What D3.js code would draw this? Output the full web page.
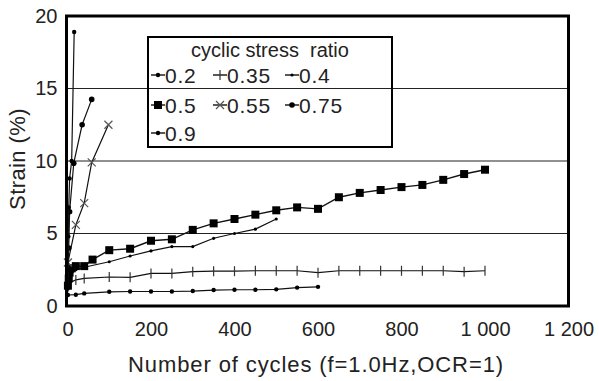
<!DOCTYPE html>
<html>
<head>
<meta charset="utf-8">
<script src="https://cdn.jsdelivr.net/npm/d3@7"></script>
<style>
  body { margin: 0; background: #fff; }
  svg text { font-family: "Liberation Sans", Arial, sans-serif; fill: #222; }
</style>
</head>
<body>
<div id="chart"></div>
<script>
// cycles / strain (%) per cyclic stress ratio
const cycles02 = [1, 20, 40, 100, 150, 200, 250, 300, 350, 400, 450, 500, 550, 600];
const strain02 = [0.76, 0.78, 0.87, 0.98, 1.0, 1.0, 1.0, 1.03, 1.1, 1.12, 1.12, 1.15, 1.27, 1.32];

const cycles035 = [1, 5, 20, 40, 100, 150, 200, 250, 300, 350, 400, 450, 500, 550, 600, 650, 700, 750, 800, 850, 900, 950, 1000];
const strain035 = [1.3, 1.6, 1.8, 1.9, 2.0, 1.98, 2.25, 2.25, 2.37, 2.4, 2.4, 2.43, 2.43, 2.43, 2.3, 2.43, 2.43, 2.43, 2.43, 2.43, 2.43, 2.37, 2.43];

const cycles04 = [1, 20, 40, 100, 150, 200, 250, 300, 350, 400, 450, 500];
const strain04 = [2.0, 2.5, 2.67, 3.05, 3.45, 3.8, 4.1, 4.1, 4.67, 5.0, 5.3, 6.0];

const cycles05 = [1, 3, 5, 10, 20, 40, 60, 100, 150, 200, 250, 300, 350, 400, 450, 500, 550, 600, 650, 700, 750, 800, 850, 900, 950, 1000];
const strain05 = [1.4, 1.9, 2.3, 2.6, 2.75, 2.75, 3.2, 3.85, 3.95, 4.5, 4.6, 5.25, 5.7, 6.0, 6.3, 6.6, 6.8, 6.7, 7.5, 7.8, 8.0, 8.2, 8.35, 8.7, 9.1, 9.4];

const cycles055 = [1, 20, 40, 58, 98];
const strain055 = [3.0, 5.6, 7.1, 9.9, 12.5];

const cycles075 = [1, 3, 5, 15, 35, 58];
const strain075 = [1.8, 4.0, 6.5, 9.85, 12.5, 14.25];

const cycles09 = [0.5, 1, 2, 3, 5, 10, 16];
const strain09 = [1.2, 2.5, 4.8, 6.8, 8.8, 10.0, 18.9];

const seriesNames = ["0.2", "0.35", "0.4", "0.5", "0.55", "0.75", "0.9"];
const xTicks = [0, 200, 400, 600, 800, 1000, 1200];
const yTicks = [0, 5, 10, 15, 20];
const gridValues = [5, 10, 15];

const series = [
  { name: "0.2", x: cycles02, y: strain02, marker: "dot" },
  { name: "0.35", x: cycles035, y: strain035, marker: "vtick" },
  { name: "0.4", x: cycles04, y: strain04, marker: "smalldot" },
  { name: "0.5", x: cycles05, y: strain05, marker: "square" },
  { name: "0.55", x: cycles055, y: strain055, marker: "cross" },
  { name: "0.75", x: cycles075, y: strain075, marker: "bigdot" },
  { name: "0.9", x: cycles09, y: strain09, marker: "dot" }
].map((s) => ({ ...s, points: s.x.map((c, i) => [c, s.y[i]]) }));

const width = 599;
const height = 381;

const x = d3.scaleLinear().domain([0, 1200]).range([67.5, 568.5]);
const y = d3.scaleLinear().domain([0, 20]).range([306, 16]);

const svg = d3.select("#chart")
  .append("svg")
  .attr("width", width)
  .attr("height", height);

const locale = d3.formatLocale({ decimal: ".", thousands: " ", grouping: [3], currency: ["", ""] });

// gridlines
svg.append("g")
  .selectAll("line")
  .data(gridValues)
  .join("line")
  .attr("x1", x(0))
  .attr("x2", x(1200))
  .attr("y1", (d) => y(d))
  .attr("y2", (d) => y(d))
  .attr("stroke", "#222")
  .attr("stroke-width", 1.2);

// axes (labels only)
svg.append("g")
  .attr("transform", `translate(0,${y(0)})`)
  .call(d3.axisBottom(x).tickValues(xTicks).tickSize(0).tickPadding(16).tickFormat(locale.format(",")))
  .call((g) => g.select(".domain").remove())
  .call((g) => g.selectAll("text").style("font-size", "20px").attr("fill", "#222"));

svg.append("g")
  .attr("transform", `translate(${x(0)},0)`)
  .call(d3.axisLeft(y).tickValues(yTicks).tickSize(0).tickPadding(10))
  .call((g) => g.select(".domain").remove())
  .call((g) => g.selectAll("text").style("font-size", "20px").attr("fill", "#222"));

// series
const line = d3.line().x((d) => x(d[0])).y((d) => y(d[1]));

function drawMarker(sel, marker) {
  if (marker === "square") {
    sel.append("rect").attr("x", -4).attr("y", -4).attr("width", 8).attr("height", 8).attr("fill", "#000");
  } else if (marker === "vtick") {
    sel.append("line").attr("x1", 0).attr("x2", 0).attr("y1", -5).attr("y2", 5).attr("stroke", "#333").attr("stroke-width", 1.2);
  } else if (marker === "cross") {
    sel.append("path").attr("d", "M-4,-4L4,4M-4,4L4,-4").attr("stroke", "#555").attr("stroke-width", 1.2);
  } else {
    const r = marker === "bigdot" ? 2.8 : marker === "smalldot" ? 1.6 : 2.2;
    sel.append("circle").attr("r", r).attr("fill", "#000");
  }
}

series.forEach((s) => {
  const g = svg.append("g");
  g.append("path")
    .datum(s.points)
    .attr("fill", "none")
    .attr("stroke", "#111")
    .attr("stroke-width", s.marker === "square" ? 1.4 : 1.2)
    .attr("d", line);
  g.selectAll("g")
    .data(s.points)
    .join("g")
    .attr("transform", (d) => `translate(${x(d[0])},${y(d[1])})`)
    .each(function () { drawMarker(d3.select(this), s.marker); });
});

// frame
svg.append("rect")
  .attr("x", x(0) - 1)
  .attr("y", y(20))
  .attr("width", x(1200) - x(0) + 1)
  .attr("height", y(0) - y(20))
  .attr("fill", "none")
  .attr("stroke", "#000")
  .attr("stroke-width", 3);

// legend
const legend = svg.append("g").attr("transform", "translate(148,37)");
legend.append("rect")
  .attr("width", 244)
  .attr("height", 110)
  .attr("fill", "none")
  .attr("stroke", "#000")
  .attr("stroke-width", 2);
legend.append("text")
  .attr("x", 122)
  .attr("y", 20)
  .attr("text-anchor", "middle")
  .style("font-size", "20px")
  .style("white-space", "pre")
  .text("cyclic stress  ratio");

const colX = [3, 65, 137];
const rowY = [38, 68, 96];
series.forEach((s, i) => {
  const col = i % 3;
  const row = Math.floor(i / 3);
  const item = legend.append("g").attr("transform", `translate(${colX[col]},${rowY[row]})`);
  item.append("line").attr("x1", 0).attr("x2", 14).attr("stroke", "#111").attr("stroke-width", 1.4);
  drawMarker(item.append("g").attr("transform", "translate(7,0)"), s.marker);
  item.append("text")
    .attr("x", 14)
    .attr("dy", "0.36em")
    .style("font-size", "21px")
    .style("letter-spacing", "0.8px")
    .text(seriesNames[i]);
});

// axis titles
svg.append("text")
  .attr("x", 316)
  .attr("y", 372)
  .attr("text-anchor", "middle")
  .style("font-size", "22px")
  .style("letter-spacing", "0.9px")
  .text("Number of cycles (f=1.0Hz,OCR=1)");

svg.append("text")
  .attr("transform", "translate(25,159) rotate(-90)")
  .attr("text-anchor", "middle")
  .style("font-size", "22px")
  .style("letter-spacing", "0.4px")
  .text("Strain (%)");
</script>
</body>
</html>
